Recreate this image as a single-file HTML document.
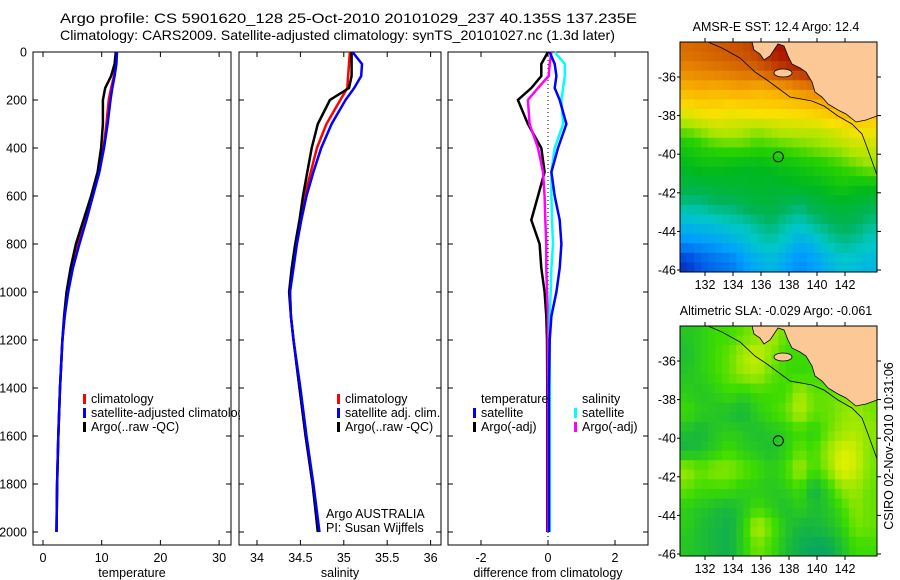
<!DOCTYPE html>
<html><head><meta charset="utf-8"><title>Argo profile</title>
<style>
html,body{margin:0;padding:0;background:#fff;}
svg{display:block;font-family:"Liberation Sans",sans-serif;}
text{fill:#000;}
</style></head>
<body>
<svg id="fig" width="900" height="580" viewBox="0 0 900 580" xmlns="http://www.w3.org/2000/svg">
<defs>
<clipPath id="c1"><rect x="33" y="52" width="207" height="494"/></clipPath>
<clipPath id="m1"><rect x="680" y="42" width="197" height="230"/></clipPath>
<clipPath id="m2"><rect x="680" y="326" width="197" height="230"/></clipPath>
</defs>
<text x="60" y="23" font-size="14" textLength="577" lengthAdjust="spacingAndGlyphs">Argo profile: CS 5901620_128 25-Oct-2010 20101029_237 40.135S 137.235E</text>
<text x="60" y="40" font-size="14" textLength="555" lengthAdjust="spacingAndGlyphs">Climatology: CARS2009. Satellite-adjusted climatology: synTS_20101027.nc (1.3d later)</text>
<g id="p1"></g>
<g id="p2"></g>
<g id="p3"></g>
<g id="map1"></g>
<g id="map2"></g>
<text transform="translate(893,446) rotate(-90)" font-size="12.5" text-anchor="middle">CSIRO 02-Nov-2010 10:31:06</text>
</svg>
<script>
// ---- data ----
const depths = [0,50,100,150,200,300,400,500,600,700,800,900,1000,1100,1200,1400,1600,1800,2000];
const tempClim = [12.5,12.4,12.1,11.6,11.2,10.8,10.3,9.5,8.4,7.2,6.0,5.0,4.2,3.7,3.3,2.9,2.6,2.4,2.3];
const tempSat  = [12.6,12.5,12.2,11.8,11.5,11.0,10.4,9.6,8.5,7.4,6.2,5.1,4.3,3.7,3.3,2.9,2.6,2.4,2.3];
const tempArgo = [12.4,12.2,11.6,10.6,10.2,10.2,9.9,9.3,8.2,6.9,5.6,4.7,4.0,3.6,3.3,2.9,2.6,2.4,2.3];
const salClim = [35.07,35.06,35.05,35.04,34.96,34.80,34.69,34.62,34.55,34.50,34.45,34.41,34.38,34.39,34.42,34.49,34.56,34.64,34.71];
const salSat  = [35.10,35.21,35.20,35.12,35.02,34.86,34.74,34.65,34.57,34.51,34.46,34.42,34.38,34.39,34.42,34.50,34.57,34.65,34.72];
const salArgo = [35.09,35.09,35.09,35.06,34.84,34.70,34.63,34.58,34.53,34.49,34.44,34.40,34.37,34.39,34.42,34.49,34.56,34.64,34.70];
const dTempSat  = [0.05,0.2,0.25,0.2,0.35,0.55,0.3,0.1,0.2,0.35,0.4,0.35,0.25,0.1,0.05,0.03,0.03,0.03,0.03];
const dTempArgo = [0,-0.2,-0.2,-0.5,-0.9,-0.6,-0.2,-0.1,-0.3,-0.5,-0.25,-0.2,-0.1,-0.05,-0.03,-0.02,-0.02,-0.02,-0.02];
const dSalSat   = [0.2,0.5,0.5,0.45,0.4,0.45,0.2,0.1,0.1,0.12,0.15,0.1,0.08,0.05,0.05,0.05,0.05,0.05,0.05];
const dSalArgo  = [0.1,0.05,0.02,-0.3,-0.6,-0.55,-0.3,-0.15,-0.1,-0.08,-0.05,-0.05,-0.03,0,0,0,0,0,0];
const depthTicks = [0,200,400,600,800,1000,1200,1400,1600,1800,2000];
const tempTicks = [0,10,20,30];
const salTicks = [34,34.5,35,35.5,36];
const salTickLabels = ["34","34.5","35","35.5","36"];
const diffTicks = [-2,0,2];
const lonTicks = [132,134,136,138,140,142];
const latTicks = [-36,-38,-40,-42,-44,-46];
// SST grid rows (north to south), 14 columns
const sstGrid = [
[15.6,15.7,15.8,15.9,16.0,16.2,16.5,16.7,16.6,16.4,16.3,16.3,16.3,16.3],
[15.2,15.3,15.4,15.5,15.6,15.7,16.0,16.2,16.4,16.6,16.4,16.3,16.3,16.3],
[14.6,14.7,14.6,14.7,14.8,14.6,14.7,14.9,15.1,15.3,15.5,15.3,15.1,15.1],
[13.9,14.0,14.1,13.9,14.0,14.1,14.1,14.1,14.2,14.3,14.5,14.7,14.9,14.7],
[13.1,13.3,13.5,13.5,13.4,13.3,13.4,13.5,13.5,13.5,13.6,13.8,14.0,13.9],
[12.4,12.6,12.8,12.9,12.9,12.7,12.8,12.9,13.0,13.1,13.2,13.3,13.5,13.5],
[12.0,12.2,12.2,12.1,12.0,12.0,12.1,12.2,12.3,12.5,12.6,12.8,13.0,13.2],
[11.6,11.6,11.7,11.8,11.8,11.9,11.8,11.9,12.0,12.0,12.2,12.4,12.2,12.2],
[11.0,11.0,11.2,11.2,11.4,11.6,11.6,11.4,11.2,11.5,11.7,11.8,11.7,11.5],
[10.4,10.5,10.6,10.7,10.8,11.0,11.2,10.9,10.7,11.0,11.2,11.4,11.3,11.0],
[9.8,9.9,10.0,10.2,10.4,10.7,10.8,10.6,10.2,10.4,10.8,11.0,10.9,10.7],
[9.0,9.3,9.5,9.6,9.9,10.2,10.4,10.1,9.8,10.0,10.3,10.6,10.5,10.4]];
// SLA grid rows (north to south), 14 columns
const slaGrid = [
[-0.03,-0.02,0,0,0.02,0.04,0.06,0.02,0,0,0,0,0,0],
[-0.04,-0.02,0,0.02,0.06,0.08,0.04,0,0,0,0,0,0,0],
[-0.03,-0.02,0,0.02,0.05,0.06,0.02,0,-0.01,0,0,0,0,0],
[-0.02,-0.03,-0.02,0,-0.02,0,0,0,0.06,0.02,0.02,0.03,0.04,0.02],
[0,-0.02,-0.03,-0.04,-0.05,-0.02,0,0.02,0.07,0.02,0.02,0.04,0.05,0.03],
[-0.04,-0.05,-0.03,-0.02,-0.03,-0.04,-0.03,-0.02,0,-0.02,0.02,0.05,0.06,0.04],
[-0.05,-0.04,-0.02,0,-0.02,-0.03,-0.04,-0.02,0.02,0,0.05,0.09,0.08,0.03],
[0.05,0.02,0.04,0.04,0.02,0,-0.02,0,0.06,0,0.04,0.1,0.08,0.03],
[0.02,0,0,0,-0.02,-0.02,-0.03,-0.02,0,-0.06,-0.02,0.04,0.05,0.02],
[-0.02,-0.03,-0.04,-0.05,-0.03,0,-0.02,-0.04,-0.02,-0.04,-0.03,0,0.04,0.02],
[-0.02,-0.04,-0.05,-0.06,-0.02,0.07,0.02,-0.03,-0.05,-0.05,-0.04,-0.02,0.03,0.02],
[-0.03,-0.04,-0.05,-0.06,-0.02,0.03,0,-0.04,-0.06,-0.07,-0.07,-0.04,0,0]];

// ---- helpers ----
const NS='http://www.w3.org/2000/svg';
function mk(tag,attrs,parent){const e=document.createElementNS(NS,tag);for(const k in attrs)e.setAttribute(k,attrs[k]);parent.appendChild(e);return e;}
const yD = d => 52 + d*0.24;

function panel(g, x0, x1, xs, ticksX, tickLabels, showYLabels, xlabel){
  const top=52,bot=545;
  mk('rect',{x:x0,y:top,width:x1-x0,height:bot-top,fill:'none',stroke:'#000','stroke-width':1},g);
  depthTicks.forEach(d=>{
    const y=yD(d);
    mk('line',{x1:x0,x2:x0+5,y1:y,y2:y,stroke:'#000'},g);
    mk('line',{x1:x1-5,x2:x1,y1:y,y2:y,stroke:'#000'},g);
    if(showYLabels){
      const t=mk('text',{x:27,y:y+4.5,'font-size':12.5,'text-anchor':'end'},g);
      t.textContent=d;
      
      
    }
  });
  ticksX.forEach((v,i)=>{
    const x=xs(v);
    mk('line',{x1:x,x2:x,y1:top,y2:top+5,stroke:'#000'},g);
    mk('line',{x1:x,x2:x,y1:bot-5,y2:bot,stroke:'#000'},g);
    const t=mk('text',{x:x,y:562,'font-size':12.5,'text-anchor':'middle'},g);
    t.textContent=tickLabels[i];
    
    
  });
  const xl=mk('text',{x:(x0+x1)/2,y:577,'font-size':12.5,'text-anchor':'middle'},g);
  xl.textContent=xlabel;
  
  
}
function series(g, vals, xs, color, name){
  const pts=vals.map((v,i)=>xs(v).toFixed(1)+','+yD(depths[i]).toFixed(1)).join(' ');
  const p=mk('polyline',{points:pts,fill:'none',stroke:color,'stroke-width':2.5,'stroke-linejoin':'miter'},g);
  
  
}
function legend(g, x, y, color, label, name){
  if(color) mk('rect',{x:x,y:y-9,width:3,height:10,fill:color},g);
  const t=mk('text',{x:x+8,y:y,'font-size':12.5},g);
  t.textContent=label;
  
  
}

// panel 1
const p1=document.getElementById('p1');
const xT=v=>43+v*5.87;
panel(p1,33,231,xT,tempTicks,tempTicks.map(String),true,'temperature');
series(p1,tempClim,xT,'#f00','temp-climatology-line');
series(p1,tempArgo,xT,'#000','temp-argo-line');
series(p1,tempSat,xT,'#00f','temp-satellite-line');
const lg1=mk('g',{'clip-path':'url(#c1)'},p1);


legend(lg1,83,403,'#f00','climatology','legend-climatology');
legend(lg1,83,417,'#00f','satellite-adjusted climatology','legend-satellite-adjusted');
legend(lg1,83,431,'#000','Argo(..raw -QC)','legend-argo');

// panel 2
const p2=document.getElementById('p2');
const xS=v=>257+(v-34)*86.8;
panel(p2,239,441,xS,salTicks,salTickLabels,false,'salinity');
series(p2,salClim,xS,'#f00','sal-climatology-line');
series(p2,salArgo,xS,'#000','sal-argo-line');
series(p2,salSat,xS,'#00f','sal-satellite-line');
legend(p2,337,403,'#f00','climatology','legend-climatology');
legend(p2,337,417,'#00f','satellite adj. clim.','legend-satellite-adj');
legend(p2,337,431,'#000','Argo(..raw -QC)','legend-argo');
const a1=mk('text',{x:326,y:518,'font-size':12.5},p2);a1.textContent='Argo AUSTRALIA';


const a2=mk('text',{x:326,y:532,'font-size':12.5},p2);a2.textContent='PI: Susan Wijffels';



// panel 3
const p3=document.getElementById('p3');
const xDf=v=>548+v*33.5;
panel(p3,448,648,xDf,diffTicks,diffTicks.map(String),false,'difference from climatology');
mk('line',{x1:xDf(0),x2:xDf(0),y1:52,y2:545,stroke:'#000','stroke-dasharray':'1,3'},p3);
series(p3,dTempArgo,xDf,'#000','diff-temp-argo-line');
series(p3,dSalArgo,xDf,'#f0f','diff-sal-argo-line');
series(p3,dSalSat,xDf,'#0ff','diff-sal-satellite-line');
series(p3,dTempSat,xDf,'#00f','diff-temp-satellite-line');
legend(p3,473,403,null,'temperature','legend-temperature-header');
legend(p3,473,417,'#00f','satellite','legend-temp-satellite');
legend(p3,473,431,'#000','Argo(-adj)','legend-temp-argo');
legend(p3,574,403,null,'salinity','legend-salinity-header');
legend(p3,574,417,'#0ff','satellite','legend-sal-satellite');
legend(p3,574,431,'#f0f','Argo(-adj)','legend-sal-argo');

// maps
function rgb(a){return 'rgb('+a.map(Math.round).join(',')+')';}
function lerpStops(stops,v){
  if(v<=stops[0][0])return rgb(stops[0][1]);
  for(let i=1;i<stops.length;i++){
    if(v<=stops[i][0]){const a=stops[i-1],b=stops[i];const t=(v-a[0])/(b[0]-a[0]);
      return rgb(a[1].map((c,j)=>c+(b[1][j]-c)*t));}
  }
  return rgb(stops[stops.length-1][1]);
}
const sstStops=[[8.5,[0,0,150]],[9.3,[0,90,230]],[10,[0,160,255]],[10.7,[0,200,200]],[11.3,[0,180,90]],[12,[0,185,30]],[12.7,[40,210,0]],[13.3,[170,230,0]],[13.9,[250,225,0]],[14.6,[250,180,0]],[15.3,[230,130,0]],[16,[200,80,0]],[16.6,[170,20,0]]];
const slaStops=[[-0.08,[0,160,110]],[-0.04,[30,190,50]],[0,[60,220,0]],[0.04,[140,230,0]],[0.09,[220,240,0]]];
function sample(grid,fr,fc){
  const R=grid.length-1,C=grid[0].length-1;
  fr=Math.max(0,Math.min(R,fr));fc=Math.max(0,Math.min(C,fc));
  const r0=Math.floor(fr),c0=Math.floor(fc),r1=Math.min(R,r0+1),c1=Math.min(C,c0+1);
  const tr=fr-r0,tc=fc-c0;
  const a=grid[r0][c0]*(1-tc)+grid[r0][c1]*tc, b=grid[r1][c0]*(1-tc)+grid[r1][c1]*tc;
  return a*(1-tr)+b*tr;
}
function mapPanel(gid, grid, stops, top, title, clip){
  const g=document.getElementById(gid);
  const x0=680,w=197,h=230;
  const cg=mk('g',{'clip-path':'url(#'+clip+')'},g);
  const sub=2, nc=14*sub, nr=12*sub;
  const cw=w/nc,ch=h/nr;
  for(let r=0;r<nr;r++)for(let c=0;c<nc;c++){
    const v=sample(grid,(r+0.5)/sub-0.5,(c+0.5)/sub-0.5);
    const cell=mk('rect',{x:(x0+c*cw).toFixed(2),y:(top+r*ch).toFixed(2),width:(cw+0.6).toFixed(2),height:(ch+0.6).toFixed(2),fill:lerpStops(stops,v)},cg);
    
    
  }
  const dy=top-42;
  const land=mk('polygon',{points:[[752,42],[754,50],[760,54],[764,60],[770,56],[774,50],[778,44],[784,46],[788,56],[792,64],[800,68],[806,72],[812,82],[815,92],[822,97],[828,104],[838,110],[846,114],[856,122],[866,120],[877,116],[877,42]].map(p=>p[0]+','+(p[1]+dy)).join(' '),fill:'#fcc896',stroke:'#000','stroke-width':0.8},cg);
  
  
  const isl=mk('ellipse',{cx:783,cy:73+dy,rx:9,ry:4,fill:'#fcc896',stroke:'#000','stroke-width':0.8},cg);
  
  
  const shelf=mk('polyline',{points:[[708,42],[722,48],[740,58],[755,72],[767,80],[790,97],[812,101],[824,106],[838,116],[852,124],[862,134],[868,150],[877,175]].map(p=>p[0]+','+(p[1]+dy)).join(' '),fill:'none',stroke:'#000','stroke-width':0.8},cg);
  
  
  const lonX=l=>705+(l-132)*14;
  const latY=l=>top+35+(-36-l)*19.3;
  const mk1=mk('circle',{cx:lonX(137.235),cy:latY(-40.135),r:5,fill:'none',stroke:'#000','stroke-width':1},g);
  
  
  mk('rect',{x:x0,y:top,width:w,height:h,fill:'none',stroke:'#000','stroke-width':1},g);
  lonTicks.forEach(l=>{const x=lonX(l);
    mk('line',{x1:x,x2:x,y1:top-4,y2:top,stroke:'#000'},g);
    mk('line',{x1:x,x2:x,y1:top+h,y2:top+h+4,stroke:'#000'},g);
    const t=mk('text',{x:x,y:top+h+17,'font-size':12.5,'text-anchor':'middle'},g);t.textContent=l;
    
    
  });
  latTicks.forEach(l=>{const y=latY(l);
    mk('line',{x1:x0-3,x2:x0,y1:y,y2:y,stroke:'#000'},g);
    mk('line',{x1:x0+w,x2:x0+w+4,y1:y,y2:y,stroke:'#000'},g);
    const t=mk('text',{x:x0-4,y:y+4.5,'font-size':12.5,'text-anchor':'end'},g);t.textContent=l;
    
    
  });
  const tt=mk('text',{x:776,y:top-11,'font-size':12.5,'text-anchor':'middle'},g);tt.textContent=title;
  
  
}
mapPanel('map1',sstGrid,sstStops,42,'AMSR-E SST: 12.4 Argo: 12.4','m1');
mapPanel('map2',slaGrid,slaStops,326,'Altimetric SLA: -0.029 Argo: -0.061','m2');
</script>
</body></html>
